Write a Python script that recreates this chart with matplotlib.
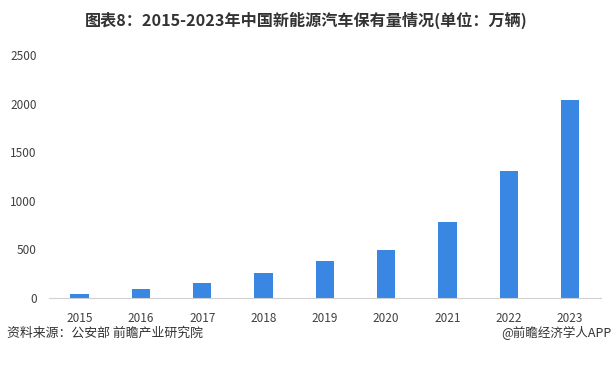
import matplotlib
matplotlib.use("Agg")
import matplotlib.pyplot as plt

plt.rcParams['font.family'] = ['Noto Sans CJK SC', 'DejaVu Sans']

years = ["2015", "2016", "2017", "2018", "2019", "2020", "2021", "2022", "2023"]
ownership = [42, 91, 153, 261, 381, 492, 784, 1310, 2041]
y_ticks = [0, 500, 1000, 1500, 2000, 2500]

TITLE = "图表8：2015-2023年中国新能源汽车保有量情况(单位：万辆)"
SOURCE = "资料来源：公安部 前瞻产业研究院"
CREDIT = "@前瞻经济学人APP"

fig = plt.figure(figsize=(6.13, 3.66), dpi=100)
ax = fig.add_axes([0.080, 0.186, 0.900, 0.664])

x = range(len(years))
ax.bar(x, ownership, width=0.3, color="#3a86e3")

ax.set_xlim(-0.5, len(years) - 0.5)
ax.set_ylim(0, 2500)
ax.set_yticks(y_ticks)
ax.set_xticks(list(x))
ax.set_xticklabels(years)

for side in ["top", "right", "left"]:
    ax.spines[side].set_visible(False)
ax.spines["bottom"].set_color("#d0d0d0")
ax.tick_params(axis="both", length=0, labelsize=8.5, colors="#404040")
ax.tick_params(axis="x", pad=10)
ax.tick_params(axis="y", pad=9)

fig.text(0.5, 0.945, TITLE, ha="center", va="center", fontsize=11.6,
         fontweight="bold", color="#333333")
fig.text(0.011, 0.090, SOURCE, ha="left", va="center", fontsize=9.3, color="#333333")
fig.text(0.998, 0.090, CREDIT, ha="right", va="center", fontsize=9, color="#333333")

fig.savefig("out.png", dpi=100)
plt.close(fig)
